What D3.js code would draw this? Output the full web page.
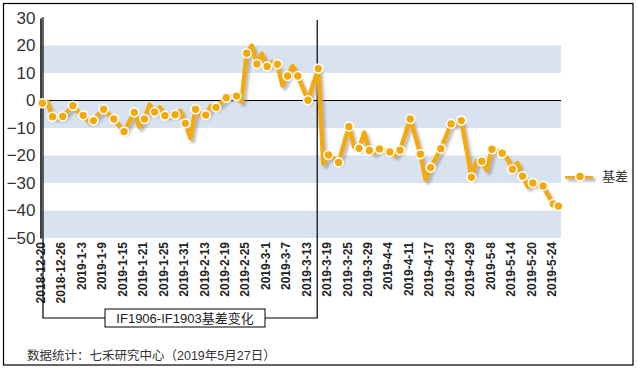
<!DOCTYPE html>
<html lang="zh">
<head>
<meta charset="UTF-8">
<title>IF1906-IF1903基差变化</title>
<style>
  body { margin: 0; background: #fff; }
  svg text { font-family: "Liberation Sans", Arial, "Noto Sans CJK SC", sans-serif; }
</style>
</head>
<body>
<div id="chart"></div>
<script src="https://d3js.org/d3.v7.min.js"></script>
<script>
// trading days, 2018-12-20 .. 2019-5-27
const dates = [
  '2018-12-20','2018-12-21','2018-12-24','2018-12-25','2018-12-26','2018-12-27','2018-12-28',
  '2019-1-2','2019-1-3','2019-1-4','2019-1-7','2019-1-8','2019-1-9','2019-1-10','2019-1-11',
  '2019-1-14','2019-1-15','2019-1-16','2019-1-17','2019-1-18','2019-1-21','2019-1-22','2019-1-23',
  '2019-1-24','2019-1-25','2019-1-28','2019-1-29','2019-1-30','2019-1-31','2019-2-1',
  '2019-2-11','2019-2-12','2019-2-13','2019-2-14','2019-2-15','2019-2-18','2019-2-19','2019-2-20',
  '2019-2-21','2019-2-22','2019-2-25','2019-2-26','2019-2-27','2019-2-28','2019-3-1',
  '2019-3-4','2019-3-5','2019-3-6','2019-3-7','2019-3-8','2019-3-11','2019-3-12','2019-3-13',
  '2019-3-14','2019-3-15','2019-3-18','2019-3-19','2019-3-20','2019-3-21','2019-3-22',
  '2019-3-25','2019-3-26','2019-3-27','2019-3-28','2019-3-29','2019-4-1','2019-4-2','2019-4-3',
  '2019-4-4','2019-4-8','2019-4-9','2019-4-10','2019-4-11','2019-4-12','2019-4-15','2019-4-16',
  '2019-4-17','2019-4-18','2019-4-19','2019-4-22','2019-4-23','2019-4-24','2019-4-25','2019-4-26',
  '2019-4-29','2019-4-30','2019-5-6','2019-5-7','2019-5-8','2019-5-9','2019-5-10','2019-5-13',
  '2019-5-14','2019-5-15','2019-5-16','2019-5-17','2019-5-20','2019-5-21','2019-5-22','2019-5-23',
  '2019-5-24','2019-5-27'
];

const basis = [
  -1.0, -0.5, -5.9, -6.0, -5.8, -3.8, -1.9, -4.0, -5.4, -7.5,
  -7.3, -5.0, -3.2, -5.0, -6.7, -9.0, -11.3, -7.8, -4.3, -9.5,
  -6.7, -1.5, -4.2, -2.5, -5.5, -5.0, -5.2, -3.8, -8.3, -13.7,
  -3.2, -5.0, -5.3, -2.0, -2.5, -0.8, 1.0, 1.5, 1.6, -0.5,
  17.2, 20.0, 13.3, 17.0, 12.4, 14.0, 13.2, 5.5, 8.9, 12.5,
  8.9, 4.5, 0.1, 5.8, 11.6, -23.0, -19.8, -21.0, -22.5, -16.0,
  -9.5, -16.8, -17.4, -11.7, -18.2, -19.0, -17.6, -18.0, -18.7, -20.0,
  -18.1, -12.5, -6.7, -13.0, -19.5, -28.7, -24.4, -21.0, -17.5, -13.0,
  -8.5, -8.5, -7.3, -17.5, -27.9, -22.0, -22.1, -25.3, -17.7, -18.3,
  -19.2, -21.0, -25.0, -22.8, -27.5, -31.3, -30.0, -30.5, -31.1, -34.5,
  -37.6, -38.4
];

const yTicks = [30, 20, 10, 0, -10, -20, -30, -40, -50];
const bands = [[10, 20], [-10, 0], [-30, -20], [-50, -40]];
const seriesName = '基差';
const boxLabel = 'IF1906-IF1903基差变化';
const sourceText = '数据统计：七禾研究中心（2019年5月27日）';
const bracketEnd = 53.8; // contract switch, in trading-day index

const W = 637, H = 371;
const lineColor = '#f4a90b';

const svg = d3.select('#chart').append('svg')
  .attr('width', W).attr('height', H);

const defs = svg.append('defs');
const f = defs.append('filter').attr('id', 'shadow')
  .attr('filterUnits', 'userSpaceOnUse')
  .attr('x', 0).attr('y', 0).attr('width', W).attr('height', H);
f.append('feDropShadow').attr('dx', 2.5).attr('dy', 3).attr('stdDeviation', 1)
  .attr('flood-color', '#8a8a8a').attr('flood-opacity', 0.55);

// outer frame
svg.append('rect').attr('x', 3.5).attr('y', 3.5).attr('width', 629.5).attr('height', 361.5)
  .attr('fill', 'none').attr('stroke', '#000').attr('stroke-width', 1.2);

const x = d3.scaleLinear().domain([0, dates.length - 1]).range([42.3, 558.4]);
const y = d3.scaleLinear().domain([-50, 30]).range([238, 18]);
const plotLeft = 42, plotRight = 561;

// bands
svg.append('g').selectAll('rect').data(bands).join('rect')
  .attr('x', plotLeft).attr('width', plotRight - plotLeft)
  .attr('y', d => y(d[1])).attr('height', d => y(d[0]) - y(d[1]))
  .attr('fill', '#d9e3ef');

// zero line
svg.append('line').attr('x1', plotLeft).attr('x2', plotRight)
  .attr('y1', y(0)).attr('y2', y(0)).attr('stroke', '#000').attr('stroke-width', 1);

// y axis
const yAxis = d3.axisLeft(y).tickValues(yTicks).tickSize(0).tickPadding(5);
const gy = svg.append('g').attr('transform', 'translate(40.5,0)').call(yAxis);
gy.select('.domain').attr('stroke', '#000').attr('stroke-width', 1.5);
gy.selectAll('text').attr('font-size', 17).attr('fill', '#333');

// x labels, every 4th trading day
const labelIdx = d3.range(0, dates.length, 4);
svg.append('g').selectAll('text').data(labelIdx).join('text')
  .attr('transform', i => `translate(${x(i) - 1.5},242) rotate(-90)`)
  .attr('dy', '0.35em')
  .attr('text-anchor', 'end')
  .attr('font-size', 12).attr('font-weight', 'bold').attr('fill', '#222')
  .text(i => dates[i]);

// bracket around the IF1906-IF1903 period
const bx0 = 43, bx1 = x(bracketEnd), by = 318;
const boxX = 105, boxW = 160, boxY = 309, boxH = 18;
svg.append('path')
  .attr('d', `M${bx0},17 V${by} H${boxX} M${boxX + boxW},${by} H${bx1} V20`)
  .attr('fill', 'none').attr('stroke', '#000').attr('stroke-width', 1.2);
svg.append('rect').attr('x', boxX).attr('y', boxY).attr('width', boxW).attr('height', boxH)
  .attr('fill', '#fff').attr('stroke', '#000').attr('stroke-width', 1);
svg.append('text').attr('x', boxX + boxW / 2).attr('y', boxY + boxH / 2).attr('dy', '0.36em')
  .attr('text-anchor', 'middle').attr('font-size', 13).attr('fill', '#222').text(boxLabel);

// series line
const line = d3.line().x((d, i) => x(i)).y(d => y(d));
const gs = svg.append('g').attr('filter', 'url(#shadow)');
gs.append('path').datum(basis).attr('d', line)
  .attr('fill', 'none').attr('stroke', lineColor).attr('stroke-width', 4.5)
  .attr('stroke-linejoin', 'round');

// markers on alternate days and on the last day
const markIdx = basis.map((d, i) => i).filter(i => i % 2 === 0 || i === basis.length - 1);
svg.append('g').selectAll('circle').data(markIdx).join('circle')
  .attr('cx', i => x(i)).attr('cy', i => y(basis[i])).attr('r', 4.5)
  .attr('fill', lineColor).attr('stroke', '#fff').attr('stroke-width', 1.6);

// legend
const lg = svg.append('g').attr('transform', 'translate(565,176.5)');
lg.append('line').attr('x1', 0).attr('x2', 28).attr('stroke', lineColor)
  .attr('stroke-width', 4.5).attr('filter', 'url(#shadow)');
lg.append('circle').attr('cx', 15).attr('r', 4.5)
  .attr('fill', lineColor).attr('stroke', '#fff').attr('stroke-width', 1.6);
lg.append('text').attr('x', 37).attr('dy', '0.36em').attr('font-size', 13)
  .attr('fill', '#333').text(seriesName);

// source note
svg.append('text').attr('x', 27).attr('y', 355).attr('dy', '0.36em')
  .attr('font-size', 12.5).attr('fill', '#333').text(sourceText);
</script>
</body>
</html>
